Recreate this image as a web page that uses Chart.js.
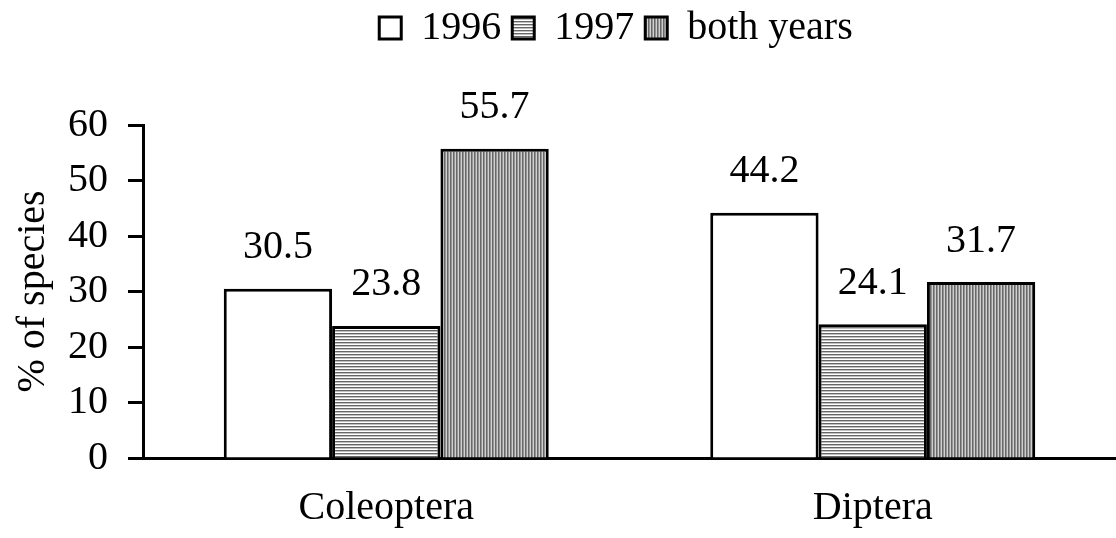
<!DOCTYPE html>
<html>
<head>
<meta charset="utf-8">
<script src="https://cdn.jsdelivr.net/npm/chart.js@4/dist/chart.umd.min.js"></script>
<style>
  html, body { margin: 0; padding: 0; background: #fff; }
  #wrap { width: 1116px; height: 538px; }
</style>
</head>
<body>
<div id="wrap"><canvas id="c" width="1116" height="538"></canvas></div>
<script>
// ---- data ----
const categories = ['Coleoptera', 'Diptera'];
const seriesNames = ['1996', '1997', 'both years'];
const values1996 = [30.5, 44.2];
const values1997 = [23.8, 24.1];
const valuesBoth = [55.7, 31.7];
const yTicks = [0, 10, 20, 30, 40, 50, 60];
const yTitle = '% of species';

// ---- patterns ----
function makePattern(kind) {
  const c = document.createElement('canvas');
  c.width = 3; c.height = 3;
  const g = c.getContext('2d');
  g.fillStyle = '#ffffff';
  g.fillRect(0, 0, 3, 3);
  if (kind === 'h') {
    g.fillStyle = '#666666'; g.fillRect(0, 0, 3, 1);
    g.fillStyle = '#c0c0c0'; g.fillRect(0, 1, 3, 1);
  } else {
    g.fillStyle = '#686868'; g.fillRect(0, 0, 1, 3);
    g.fillStyle = '#949494'; g.fillRect(1, 0, 1, 3);
    g.fillStyle = '#d0d0d0'; g.fillRect(2, 0, 1, 3);
  }
  return g.createPattern(c, 'repeat');
}
const patH = makePattern('h');
const patV = makePattern('v');

const FONT = "'Liberation Serif', 'Times New Roman', Times, serif";
Chart.defaults.font.family = FONT;
Chart.defaults.font.size = 40;
Chart.defaults.color = '#000';

const LEGEND_H = 125;
const LEGEND_DX = 58;
const LEGEND_DY = -3;

const legendSpace = {
  id: 'legendSpace',
  beforeLayout(chart) {
    const lg = chart.legend;
    if (lg && !lg._patched) {
      const f = lg.fit;
      lg.fit = function () { f.apply(this, arguments); this.height = LEGEND_H; };
      lg._patched = true;
    }
  },
  afterLayout(chart) {
    const lg = chart.legend;
    if (lg) {
      lg.left += LEGEND_DX; lg.right += LEGEND_DX;
      lg.top += LEGEND_DY; lg.bottom += LEGEND_DY;
    }
  }
};

const valueLabels = {
  id: 'valueLabels',
  afterDatasetsDraw(chart) {
    const ctx = chart.ctx;
    ctx.save();
    ctx.font = '40px ' + FONT;
    ctx.fillStyle = '#000';
    ctx.textAlign = 'center';
    ctx.textBaseline = 'middle';
    chart.data.datasets.forEach((ds, i) => {
      const meta = chart.getDatasetMeta(i);
      meta.data.forEach((el, j) => {
        ctx.fillText(ds.data[j].toFixed(1), el.x, el.y - 41);
      });
    });
    ctx.restore();
  }
};

const common = { borderColor: '#000', borderWidth: 3, categoryPercentage: 0.668, barPercentage: 1.0 };

new Chart(document.getElementById('c'), {
  type: 'bar',
  data: {
    labels: categories,
    datasets: [
      Object.assign({ label: seriesNames[0], data: values1996, backgroundColor: '#ffffff' }, common),
      Object.assign({ label: seriesNames[1], data: values1997, backgroundColor: patH }, common),
      Object.assign({ label: seriesNames[2], data: valuesBoth, backgroundColor: patV }, common)
    ]
  },
  options: {
    responsive: false,
    animation: false,
    devicePixelRatio: 1,
    layout: { padding: { left: 0, right: 0, top: 0, bottom: 0 } },
    plugins: {
      legend: {
        position: 'top',
        labels: { boxWidth: 22, boxHeight: 22, padding: 11, font: { size: 40 }, color: '#000' }
      },
      tooltip: { enabled: false }
    },
    scales: {
      x: {
        grid: { display: false },
        border: { display: true, color: '#000', width: 3 },
        ticks: { font: { size: 40 }, color: '#000', padding: 18 },
        afterFit(s) { s.height = 80; }
      },
      y: {
        min: 0, max: 60,
        afterBuildTicks(s) { s.ticks = yTicks.map(v => ({ value: v })); },
        grid: { display: true, drawOnChartArea: false, drawTicks: true, tickLength: 15, tickWidth: 3, tickColor: '#000', color: '#000' },
        border: { display: true, color: '#000', width: 3 },
        ticks: { font: { size: 40 }, color: '#000', padding: 20 },
        title: { display: true, text: yTitle, font: { size: 40 }, color: '#000', padding: 9 },
        afterFit(s) { s.width = 143; }
      }
    }
  },
  plugins: [legendSpace, valueLabels]
});
</script>
</body>
</html>
